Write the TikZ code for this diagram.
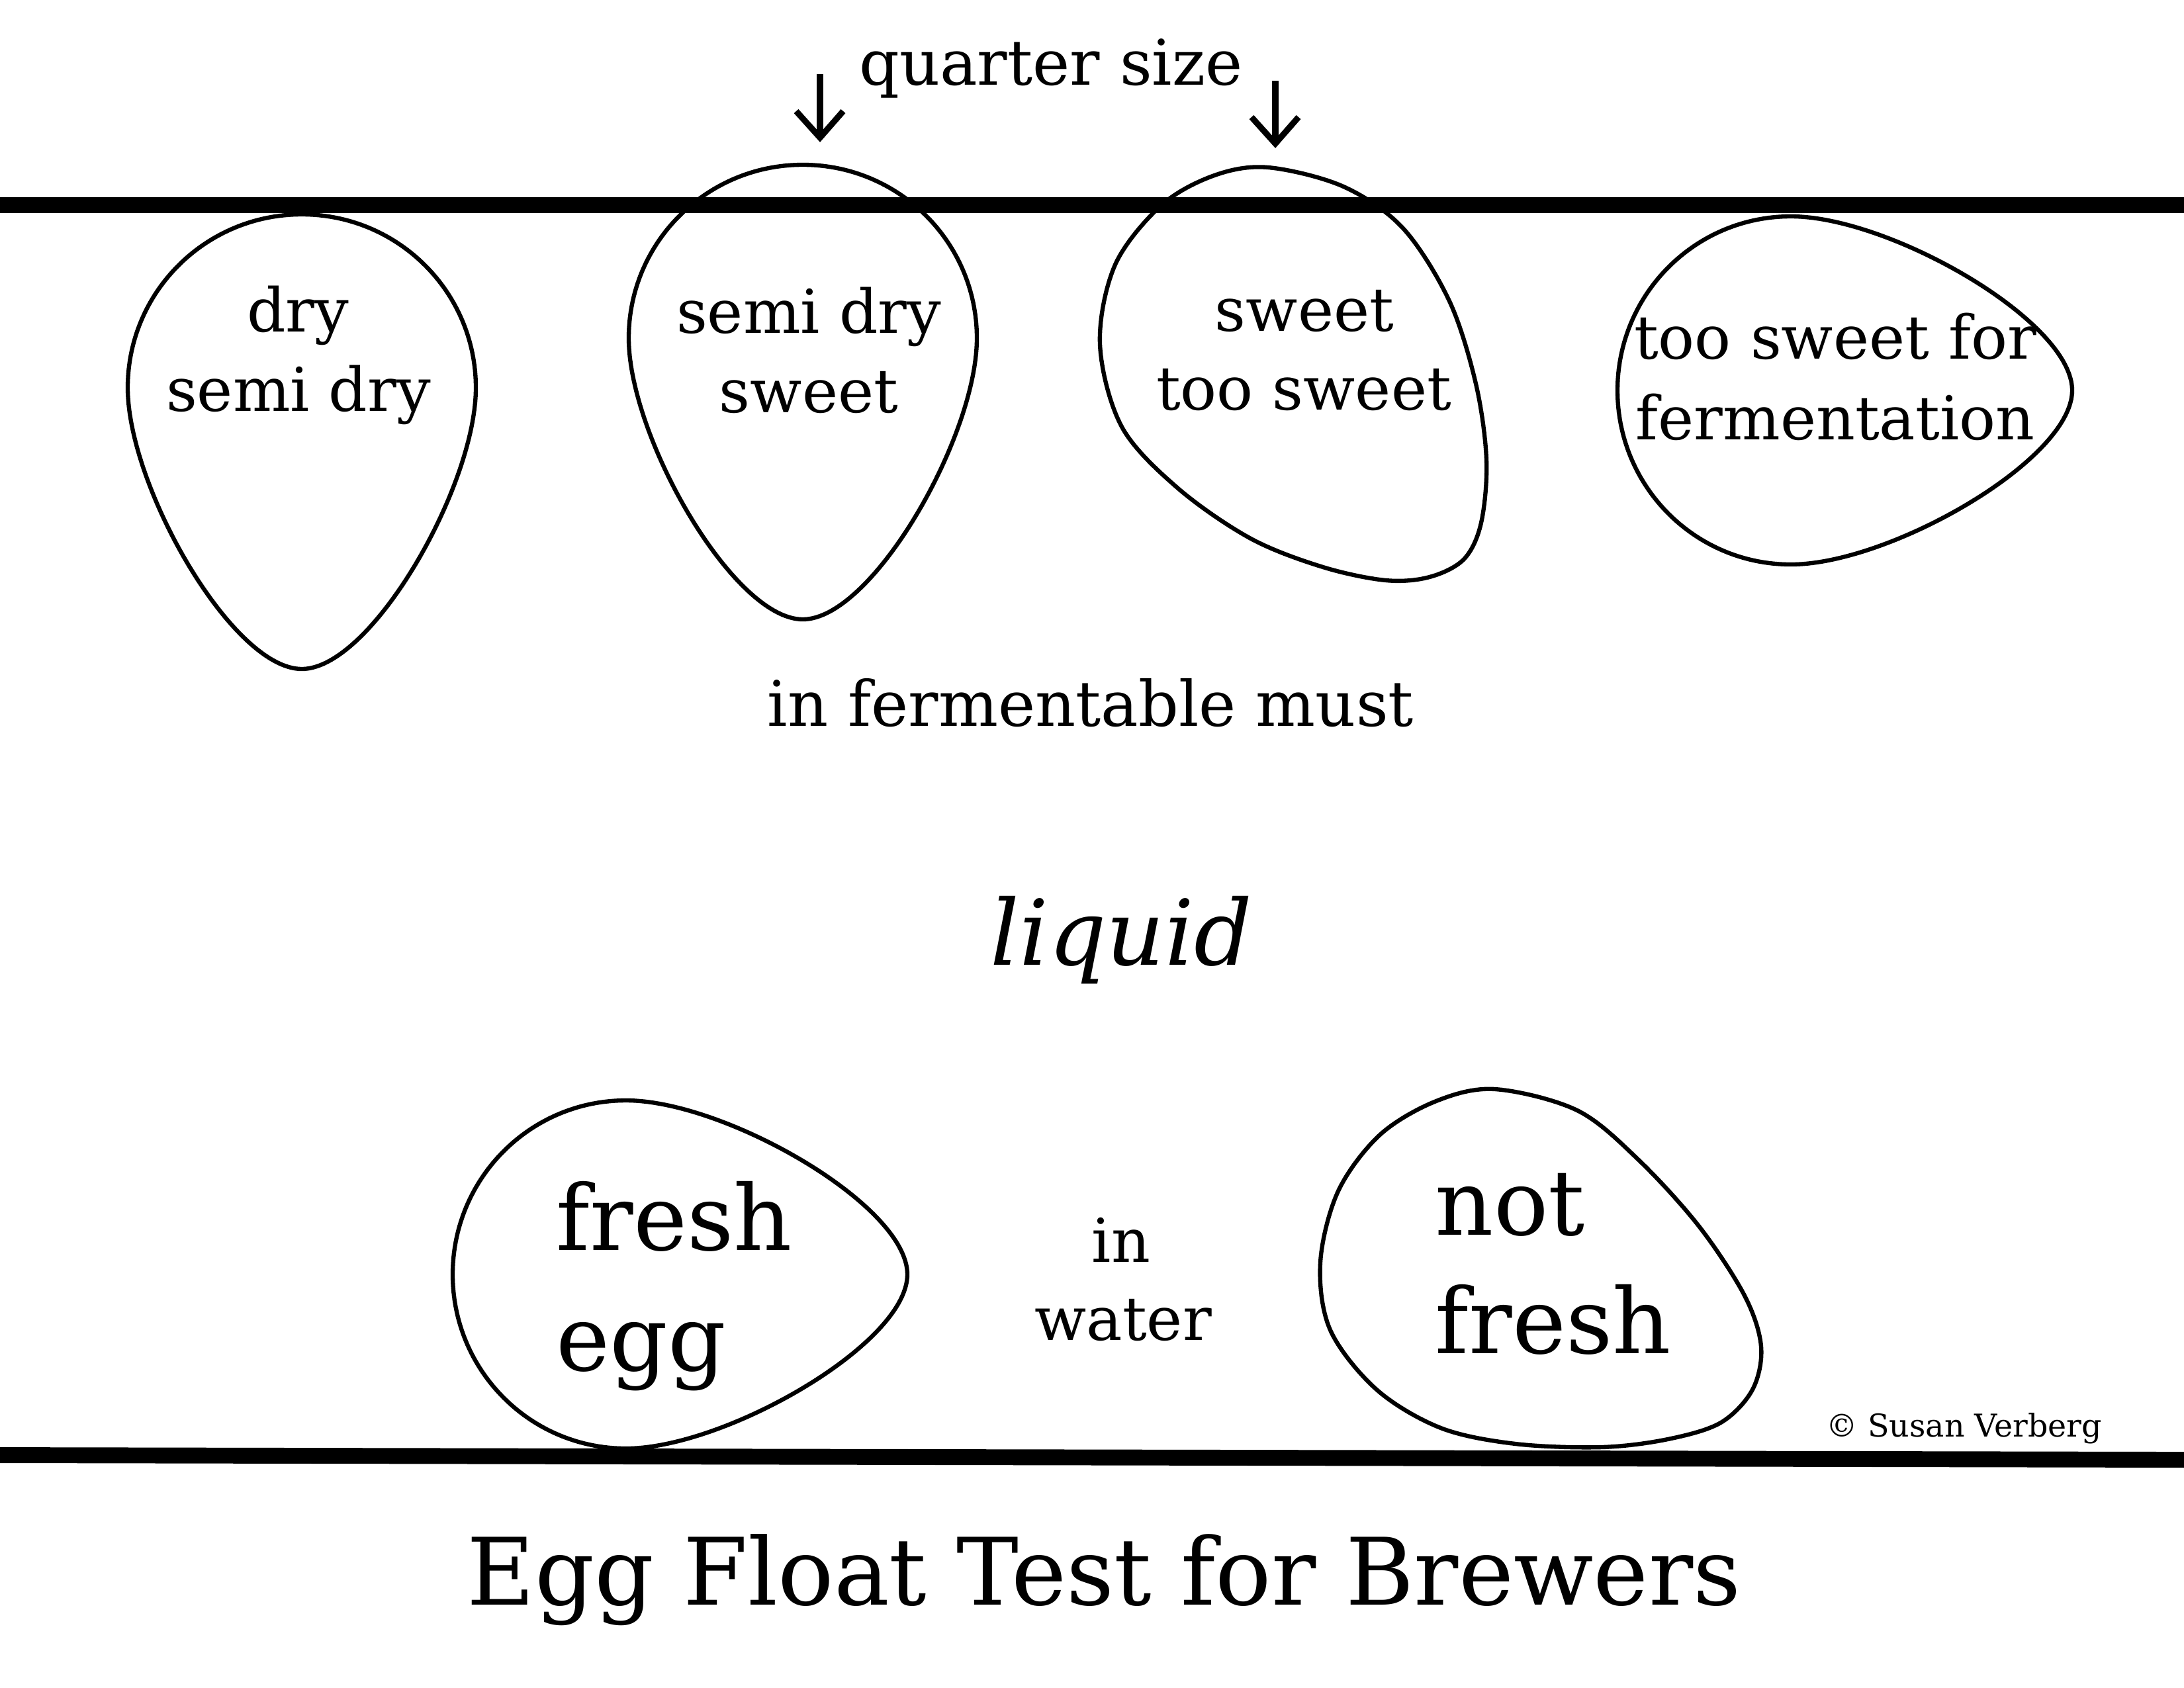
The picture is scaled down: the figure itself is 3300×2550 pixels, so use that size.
\documentclass[tikz,border=0pt]{standalone}
\usepackage{fontspec}
\setmainfont{DejaVu Serif}
\begin{document}
\begin{tikzpicture}[x=0.01cm,y=-0.01cm,
  eggline/.style={line width=1.8pt, line join=round},
  egg/.style={insert path={(-262,0) .. controls (-262,145) and (-145,263) .. (0,263)
     .. controls (149,263) and (425,105) .. (425,0)
     .. controls (425,-105) and (149,-263) .. (0,-263)
     .. controls (-145,-263) and (-262,-145) .. (-262,0) -- cycle}},
  bar/.style={line width=6.8pt},
  arrowline/.style={line width=2.6pt, line cap=butt, line join=miter},
  small/.style={font=\fontsize{26}{31}\selectfont, inner sep=0pt, anchor=base},
  mid/.style={font=\fontsize{27}{32}\selectfont, inner sep=0pt, anchor=base},
  big/.style={font=\fontsize{39}{47}\selectfont, inner sep=0pt, anchor=base west},
  liq/.style={font=\fontsize{39}{47}\selectfont\itshape, inner sep=0pt, anchor=base},
  titletext/.style={font=\fontsize{40}{48}\selectfont, inner sep=0pt, anchor=base},
  copytext/.style={font=\fontsize{13.5}{16}\selectfont, inner sep=0pt, anchor=base west}]
\useasboundingbox[fill=white] (0,0) rectangle (3300,2550);

% surface lines
\coordinate (topL) at (0,310);
\coordinate (topR) at (3300,310);
\coordinate (botL) at (0,2199);
\coordinate (botR) at (3300,2206);
\draw[bar] (topL) -- (topR);
\draw[bar] (botL) -- (botR);

% eggs in must
\draw[eggline, shift={(456,586)}, rotate=-90, egg];
\draw[eggline, shift={(1213,511)}, rotate=-90, egg];
\draw[eggline] plot[smooth cycle, tension=0.55] coordinates {
  (1916,253) (2030,282) (2120,345) (2190,455) (2230,580) (2246,695)
  (2238,790) (2212,845) (2160,872) (2094,877) (1999,857) (1890,814) (1780,738)
  (1695,645) (1662,520) (1685,400) (1755,310) (1835,265)};
\draw[eggline, shift={(2706,590)}, egg];

% eggs in water
\draw[eggline, shift={(946,1926)}, egg];
\draw[eggline] plot[smooth cycle, tension=0.55] coordinates {
  (2259,1646) (2383,1678) (2475,1752) (2567,1853) (2636,1958) (2661,2035)
  (2648,2100) (2600,2150) (2520,2175) (2420,2187) (2290,2182) (2177,2158)
  (2080,2100) (2010,2010) (1995,1908) (2022,1800) (2085,1715) (2170,1664)};

% arrows
\coordinate (a1s) at (1239,112);
\coordinate (a1t) at (1239,208);
\coordinate (a2s) at (1927,122);
\coordinate (a2t) at (1927,217);
\draw[arrowline] (a1s) -- ([yshift=0.05cm]a1t);
\draw[arrowline] ([shift={(-36,-40)}]a1t) -- (a1t) -- ([shift={(35,-40)}]a1t);
\draw[arrowline] (a2s) -- ([yshift=0.05cm]a2t);
\draw[arrowline] ([shift={(-36,-40)}]a2t) -- (a2t) -- ([shift={(35,-40)}]a2t);

% texts
\node[mid] (quarter) at (1588,128) {quarter size};
\node[small] (t1a) at (450,501) {dry};
\node[small] (t1b) at (451,621) {semi dry};
\node[small] (t2a) at (1222,503) {semi dry};
\node[small] (t2b) at (1222,623) {sweet};
\node[small] (t3a) at (1971,500) {sweet};
\node[small] (t3b) at (1970,619) {too sweet};
\node[small] (t4a) at (2773,542) {too sweet for};
\node[small] (t4b) at (2773,664) {fermentation};
\node[mid] (must) at (1648,1097) {in fermentable must};
\node[liq] (liquid) at (1694,1458) {liquid};
\node[big] (fresh1) at (840,1889) {fresh};
\node[big] (egg1) at (840,2071) {egg};
\node[small] (in) at (1694,1907) {in};
\node[small] (water) at (1697,2025) {water};
\node[big] (not) at (2168,1866) {not};
\node[big] (fresh2) at (2168,2045) {fresh};
\node[copytext] (copy) at (2759,2171) {© Susan Verberg};
\node[titletext] (title) at (1668,2425) {Egg Float Test for Brewers};
\end{tikzpicture}
\end{document}
